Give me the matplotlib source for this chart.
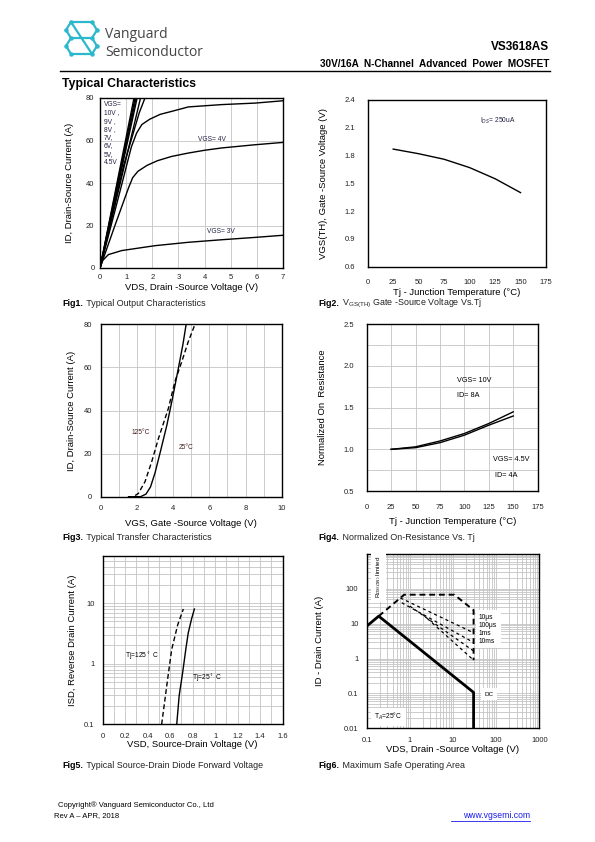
import matplotlib
matplotlib.use('Agg')
import matplotlib.pyplot as plt
from matplotlib.lines import Line2D
from matplotlib.ticker import FixedLocator, NullFormatter

plt.rcParams['font.family'] = ['Liberation Sans', 'DejaVu Sans']
NARROW = ['Liberation Sans Narrow', 'Liberation Sans', 'DejaVu Sans']

# ---------------------------------------------------------------------
# Fig1 - output characteristics
vds_3v = [0, 0.1, 0.32, 0.83, 2.1, 3.38, 4.66, 5.93, 7.0]
id_3v = [0, 3.5, 6.3, 8.2, 10.5, 12.1, 13.3, 14.4, 15.4]
vds_4v = [0, 0.6, 1.1, 1.25, 1.45, 1.8, 2.2, 2.74, 3.38, 4.0, 4.66, 5.93, 7.0]
id_4v = [0, 21, 38, 42.5, 45.5, 48.3, 50.5, 52.5, 54.1, 55.4, 56.5, 58, 59.1]
vds_45v = [0, 0.7, 1.2, 1.4, 1.6, 1.9, 2.3, 2.74, 3.38, 4.66, 5.93, 7.0]
id_45v = [0, 33, 57, 63.5, 67.5, 70, 72.3, 73.7, 75.8, 76.9, 77.6, 78.7]
vds_5v = [0, 0.9, 1.5, 1.72]
id_5v = [0, 48, 73, 80]
vds_6v = [0, 1.55]
vds_7v = [0, 1.42]
vds_8v = [0, 1.38]
vds_9v = [0, 1.34]
vds_10v = [0, 1.30]
id_straight = [0, 80]

# Fig2 - threshold voltage vs Tj
tj_vth = [25, 50, 75, 100, 125, 150]
vth = [1.87, 1.82, 1.76, 1.67, 1.55, 1.40]

# Fig3 - transfer characteristics
vgs_25 = [1.8, 2.2, 2.5, 2.75, 3.0, 3.3, 3.65, 3.95, 4.3, 4.55, 4.72]
id_25 = [0, 0, 1.2, 4.5, 11, 21, 33, 45, 60, 71, 80]
vgs_125 = [1.5, 1.8, 2.08, 2.45, 2.82, 3.19, 3.74, 4.1, 4.48, 4.84, 5.21]
id_125 = [0, 0, 1.5, 7, 16.3, 27, 41, 53.4, 62.7, 72, 80]

# Fig4 - normalized on-resistance
tj_ron = [25, 50, 75, 100, 125, 150]
ron_10v = [1.0, 1.03, 1.10, 1.19, 1.31, 1.45]
ron_45v = [1.0, 1.02, 1.08, 1.17, 1.29, 1.40]

# Fig5 - body diode
vsd_25 = [0.658, 0.68, 0.71, 0.74, 0.76, 0.79, 0.815]
isd_25 = [0.1, 0.3, 0.7, 1.8, 3.2, 5.5, 8.0]
vsd_125 = [0.524, 0.583, 0.613, 0.667, 0.717]
isd_125 = [0.1, 0.67, 1.71, 4.4, 8.0]

# Fig6 - SOA
dc_v = [0.1, 0.19, 30, 30]
dc_i = [8.5, 16.5, 0.107, 0.01]
env_v = [0.19, 0.74, 10.7, 30, 30]
env_i = [16.5, 68, 68, 24.5, 0.9]
pulse_v = [[0.6, 30], [0.65, 30], [1.0, 30], [2.0, 30]]
pulse_i = [[55, 5.5], [40, 2.9], [32, 1.65], [18.4, 0.9]]

fig = plt.figure(figsize=(5.95, 8.42), dpi=100)


def fx(px):
    return px / 595.0


def fy(py):
    return 1 - py / 842.0


def box(x0, y0, x1, y1):
    return [fx(x0), fy(y1), fx(x1) - fx(x0), fy(y0) - fy(y1)]


def style(ax, pad=4):
    for s in ax.spines.values():
        s.set_linewidth(1.0)
        s.set_color('black')
    ax.tick_params(length=0, pad=pad, labelsize=5.5, colors='#222222')
    for lab in ax.get_xticklabels() + ax.get_yticklabels():
        lab.set_family(NARROW)
    ax.set_axisbelow(True)


GRID = dict(color='#c4c4c4', linewidth=0.6)
LBL = 6.8

# ---------------------------------------------------------------------
# header
logo_pts = [(66, 30), (71, 22), (92, 22), (97, 30), (92, 38), (71, 38),
            (66, 46), (71, 54), (92, 54), (97, 46)]
logo2 = [(71, 22), (92, 54)]
logo3 = [(66, 30), (71, 38)]
logo4 = [(97, 46), (92, 38)]
for pts in [logo_pts, logo2, logo3, logo4]:
    fig.add_artist(Line2D([fx(p[0]) for p in pts], [fy(p[1]) for p in pts],
                          color='#2cb8cc', lw=1.6))
for p in logo_pts:
    fig.add_artist(Line2D([fx(p[0])], [fy(p[1])], marker='o', ms=2.2,
                          color='#2cb8cc'))
fig.text(fx(105), fy(34), 'Vanguard', fontsize=10, color='#444444',
         va='center', family=['Open Sans', 'DejaVu Sans'])
fig.text(fx(105), fy(52), 'Semiconductor', fontsize=10, color='#444444',
         va='center', family=['Open Sans', 'DejaVu Sans'])
fig.text(fx(549), fy(47), 'VS3618AS', fontsize=8.5, weight='bold',
         ha='right', va='center')
fig.text(fx(549), fy(64), '30V/16A  N-Channel  Advanced  Power  MOSFET',
         fontsize=7.2, weight='bold', ha='right', va='center')
fig.add_artist(Line2D([fx(60), fx(550)], [fy(71), fy(71)], color='black',
                      lw=1.0))
fig.text(fx(62), fy(84), 'Typical Characteristics', fontsize=8.8,
         weight='bold', va='center')

# ---------------------------------------------------------------------
# Fig1
ax1 = fig.add_axes(box(100, 98, 283, 268))
ax1.plot(vds_3v, id_3v, color='black', lw=1.0)
ax1.plot(vds_4v, id_4v, color='black', lw=1.0)
ax1.plot(vds_45v, id_45v, color='black', lw=1.0)
ax1.plot(vds_5v, id_5v, color='black', lw=1.0)
for v in [vds_6v, vds_7v, vds_8v, vds_9v, vds_10v]:
    ax1.plot(v, id_straight, color='black', lw=1.0)
ax1.set_xlim(0, 7)
ax1.set_ylim(0, 80)
ax1.set_xticks(range(0, 8))
ax1.set_yticks([0, 20, 40, 60, 80])
ax1.grid(True, **GRID)
ax1.text(0.15, 78.5, 'VGS=\n10V ,\n9V ,\n8V ,\n7V,\n6V,\n5V,\n4.5V',
         fontsize=4.8, va='top', family=NARROW, linespacing=1.25,
         color='#222244')
ax1.text(4.27, 60.6, 'VGS= 4V', fontsize=4.8, ha='center', va='center',
         family=NARROW, color='#222244')
ax1.text(4.62, 17.0, 'VGS= 3V', fontsize=4.8, ha='center', va='center',
         family=NARROW, color='#222244')
ax1.set_xlabel('VDS, Drain -Source Voltage (V)', fontsize=LBL, labelpad=2)
ax1.set_ylabel('ID, Drain-Source Current (A)', fontsize=LBL, labelpad=9)
style(ax1)

# Fig2
ax2 = fig.add_axes(box(367.7, 100, 546, 266.7))
ax2.plot(tj_vth, vth, color='black', lw=1.0)
ax2.set_xlim(0, 175)
ax2.set_ylim(0.6, 2.4)
ax2.set_xticks(range(0, 176, 25))
ax2.set_yticks([0.6, 0.9, 1.2, 1.5, 1.8, 2.1, 2.4])
ax2.set_yticklabels(['0.6', '0.9', '1.2', '1.5', '1.8', '2.1', '2.4'])
ax2.text(110, 2.17, 'I$_{DS}$= 250uA', fontsize=4.8, va='center',
         family=NARROW, color='#222244')
ax2.set_xlabel('Tj - Junction Temperature (\u00b0C)', fontsize=LBL,
               labelpad=1)
ax2.set_ylabel('VGS(TH), Gate -Source Voltage (V)', fontsize=LBL,
               labelpad=12)
style(ax2, pad=9)

# Fig3
ax3 = fig.add_axes(box(100.7, 324.3, 281.7, 496.7))
ax3.plot(vgs_25, id_25, color='black', lw=1.0)
ax3.plot(vgs_125, id_125, color='black', lw=1.0, dashes=(3.5, 2))
ax3.set_xlim(0, 10)
ax3.set_ylim(0, 80)
ax3.set_xticks([0, 2, 4, 6, 8, 10])
ax3.xaxis.set_minor_locator(FixedLocator([1, 3, 5, 7, 9]))
ax3.set_yticks([0, 20, 40, 60, 80])
ax3.grid(True, which='both', **GRID)
ax3.tick_params(which='minor', length=0)
ax3.text(1.71, 29.9, '125\u00b0C', fontsize=4.8, va='center',
         family=NARROW, color='#442222')
ax3.text(4.3, 22.9, '25\u00b0C', fontsize=4.8, va='center',
         family=NARROW, color='#442222')
ax3.set_xlabel('VGS, Gate -Source Voltage (V)', fontsize=LBL, labelpad=5)
ax3.set_ylabel('ID, Drain-Source Current (A)', fontsize=LBL, labelpad=6)
style(ax3, pad=6)

# Fig4
ax4 = fig.add_axes(box(366.7, 324.3, 537.7, 491))
ax4.plot(tj_ron, ron_10v, color='black', lw=1.0)
ax4.plot(tj_ron, ron_45v, color='black', lw=1.0)
ax4.set_xlim(0, 175)
ax4.set_ylim(0.5, 2.5)
ax4.set_xticks(range(0, 176, 25))
ax4.set_yticks([0.5, 1.0, 1.5, 2.0, 2.5])
ax4.yaxis.set_minor_locator(FixedLocator([0.75, 1.25, 1.75, 2.25]))
ax4.grid(True, which='both', **GRID)
ax4.tick_params(which='minor', length=0)
ax4.text(92, 1.83, 'VGS= 10V', fontsize=5.2, va='center', family=NARROW)
ax4.text(92, 1.64, 'ID= 8A', fontsize=5.2, va='center', family=NARROW)
ax4.text(129, 0.88, 'VGS= 4.5V', fontsize=5.2, va='center', family=NARROW)
ax4.text(131, 0.69, 'ID= 4A', fontsize=5.2, va='center', family=NARROW)
ax4.set_xlabel('Tj - Junction Temperature (\u00b0C)', fontsize=LBL,
               labelpad=5)
ax4.set_ylabel('Normalized On  Resistance', fontsize=LBL, labelpad=12)
style(ax4, pad=9)

# Fig5
ax5 = fig.add_axes(box(102.7, 556, 282.7, 724.3))
ax5.plot(vsd_25, isd_25, color='black', lw=1.0)
ax5.plot(vsd_125, isd_125, color='black', lw=1.0, dashes=(3.5, 2))
ax5.set_yscale('log')
ax5.set_xlim(0, 1.6)
ax5.set_ylim(0.1, 60)
ax5.set_xticks([0, 0.2, 0.4, 0.6, 0.8, 1, 1.2, 1.4, 1.6])
ax5.set_xticklabels(['0', '0.2', '0.4', '0.6', '0.8', '1', '1.2', '1.4',
                     '1.6'])
ax5.xaxis.set_minor_locator(FixedLocator([0.1, 0.3, 0.5, 0.7, 0.9, 1.1,
                                          1.3, 1.5]))
ax5.set_yticks([0.1, 1, 10])
ax5.set_yticklabels(['0.1', '1', '10'])
ax5.yaxis.set_minor_formatter(NullFormatter())
ax5.grid(True, which='both', **GRID)
ax5.tick_params(which='minor', length=0)
ax5.text(0.2, 1.33, 'Tj=125$^\\circ$ C', fontsize=4.8, va='center',
         family=NARROW)
ax5.text(0.79, 0.57, 'Tj=25$^\\circ$ C', fontsize=4.8, va='center',
         family=NARROW)
ax5.set_xlabel('VSD, Source-Drain Voltage (V)', fontsize=LBL, labelpad=0)
ax5.set_ylabel('ISD, Reverse Drain Current (A)', fontsize=LBL, labelpad=5)
style(ax5, pad=6)

# Fig6
ax6 = fig.add_axes(box(366.7, 554, 539.3, 728.3))
ax6.set_xscale('log')
ax6.set_yscale('log')
ax6.plot(dc_v, dc_i, color='black', lw=2.0)
ax6.plot(env_v, env_i, color='black', lw=1.4, dashes=(3, 2))
for v, i in zip(pulse_v, pulse_i):
    ax6.plot(v, i, color='black', lw=0.9, dashes=(2.5, 2.5))
ax6.set_xlim(0.1, 1000)
ax6.set_ylim(0.01, 1000)
ax6.set_xticks([0.1, 1, 10, 100, 1000])
ax6.set_xticklabels(['0.1', '1', '10', '100', '1000'])
ax6.set_yticks([0.01, 0.1, 1, 10, 100])
ax6.set_yticklabels(['0.01', '0.1', '1', '10', '100'])
ax6.xaxis.set_minor_formatter(NullFormatter())
ax6.yaxis.set_minor_formatter(NullFormatter())
ax6.grid(True, which='both', **GRID)
ax6.tick_params(which='minor', length=0)
bb = dict(facecolor='white', edgecolor='none', pad=2.5)
ax6.text(0.19, 220, 'R$_{DS(ON)}$ limited', fontsize=4.5, rotation=90,
         ha='center', va='center', family=NARROW, bbox=bb)
ax6.text(40, 7.0, '10\u03bcs\n100\u03bcs\n1ms\n10ms', fontsize=4.8,
         va='center', family=NARROW, linespacing=1.2, bbox=bb)
ax6.text(55, 0.096, 'DC', fontsize=4.5, va='center', family=NARROW, bbox=bb)
ax6.text(0.15, 0.0215, 'T$_A$=25\u00b0C', fontsize=4.8, va='center',
         family=NARROW, bbox=bb)
ax6.set_xlabel('VDS, Drain -Source Voltage (V)', fontsize=LBL, labelpad=1)
ax6.set_ylabel('ID - Drain Current (A)', fontsize=LBL, labelpad=14)
style(ax6, pad=6)

# ---------------------------------------------------------------------
# captions
CAP = 6.4
caps = [(62, 303, 'Fig1.', ' Typical Output Characteristics'),
        (318, 303, 'Fig2.',
         ' V$_{\\mathregular{GS(TH)}}$ Gate -Source Voltage Vs.Tj'),
        (62, 537, 'Fig3.', ' Typical Transfer Characteristics'),
        (318, 537, 'Fig4.', ' Normalized On-Resistance Vs. Tj'),
        (62, 765, 'Fig5.', ' Typical Source-Drain Diode Forward Voltage'),
        (318, 765, 'Fig6.', ' Maximum Safe Operating Area')]
renderer = fig.canvas.get_renderer()
for x, y, bold, rest in caps:
    t = fig.text(fx(x), fy(y), bold, fontsize=CAP, weight='bold',
                 va='center')
    w = t.get_window_extent(renderer).width
    fig.text(fx(x + w + 1), fy(y), rest, fontsize=CAP, va='center',
             color='#222222')

# footer
fig.text(fx(58), fy(805), 'Copyright\u00ae Vanguard Semiconductor Co., Ltd',
         fontsize=5.5, va='center')
fig.text(fx(54), fy(816), 'Rev A \u2013 APR, 2018', fontsize=5.5,
         va='center')
fig.text(fx(530), fy(816), 'www.vgsemi.com', fontsize=6.2, va='center',
         ha='right', color='#1a1aee')
fig.add_artist(Line2D([fx(451), fx(530)], [fy(821), fy(821)],
                      color='#1a1aee', lw=0.6))

fig.savefig('out.png', dpi=100)
